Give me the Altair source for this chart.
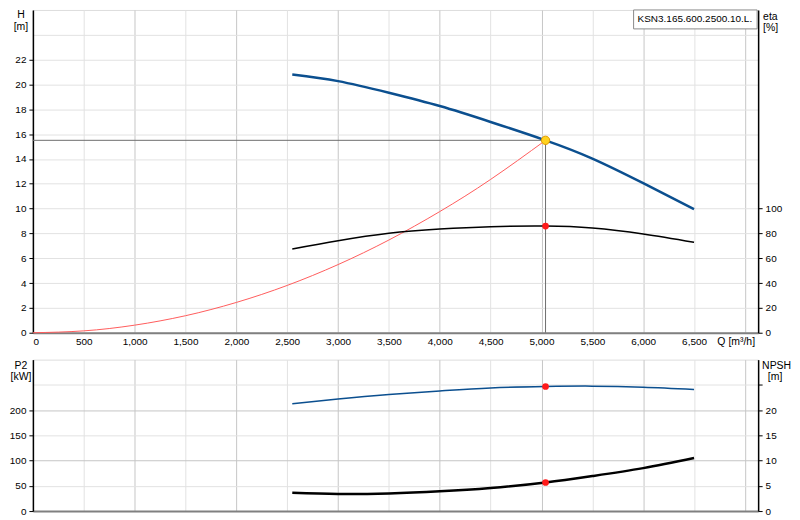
import altair as alt
import pandas as pd

FONT = "Liberation Sans"

# ---- data ----
q_pump = [2550, 3000, 3500, 4000, 4500, 5040, 5500, 6000, 6500]
h_pump = [20.8, 20.27, 19.33, 18.26, 16.98, 15.5, 14.03, 12.05, 9.96]
eta_pump = [67.5, 74.1, 80.1, 83.5, 85.4, 85.9, 84.3, 79.5, 72.8]
p2_pump = [212.5, 222, 231, 238, 244, 246.8, 247.5, 245.5, 241]
npsh_pump = [3.62, 3.37, 3.49, 3.9, 4.55, 5.66, 6.93, 8.5, 10.5]

q_sys = [0, 500, 1000, 1500, 2000, 2500, 3000, 3500, 4000, 4500, 5040]
h_sys = [0, 0.15, 0.61, 1.37, 2.44, 3.81, 5.49, 7.47, 9.76, 12.35, 15.5]

duty_q = [5040]
duty_h = [15.5]
duty_eta = [85.9]
duty_p2 = [246.8]
duty_npsh = [5.66]

x_ticks = list(range(0, 7001, 500))
h_ticks = list(range(0, 25, 2))
eta_ticks = list(range(0, 101, 20))
p2_ticks = list(range(0, 251, 50))
npsh_ticks = list(range(0, 26, 5))
model_name = "KSN3.165.600.2500.10.L."

W = 728
H_TOP = 324
H_BOT = 152

pump = pd.DataFrame({"Q": q_pump, "H": h_pump, "eta": eta_pump, "P2": p2_pump, "NPSH": npsh_pump})
system = pd.DataFrame({"Q": q_sys, "H": h_sys})
duty = pd.DataFrame({"Q": duty_q, "H": duty_h, "eta": duty_eta, "P2": duty_p2, "NPSH": duty_npsh, "Q0": [0], "H0": [0]})
one = pd.DataFrame({"a": [0]})

LIGHT = "#e2e2e2"
DARK = "#c6c6c6"
INTERP = "natural"

xs = alt.Scale(domain=[0, 7130], nice=False, zero=False)
x_grid = {"condition": {"test": "datum.value % 1000 === 0", "value": DARK}, "value": LIGHT}

x_axis_top = alt.Axis(values=x_ticks, labelExpr="datum.value > 6500 ? '' : format(datum.value, ',')",
                      grid=True, gridColor=x_grid, ticks=False, domainColor="#808080", domainWidth=2,
                      labelPadding=4, title=None, labelOverlap=False)
x_axis_bot = alt.Axis(values=x_ticks, labels=False, grid=True, gridColor=x_grid, ticks=False,
                      domainColor="#808080", domainWidth=2, title=None)

ys_h = alt.Scale(domain=[0, 26], nice=False, zero=False)
ys_eta = alt.Scale(domain=[0, 260], nice=False, zero=False)
ys_p2 = alt.Scale(domain=[0, 300], nice=False, zero=False)
ys_npsh = alt.Scale(domain=[0, 30], nice=False, zero=False)

y_axis_h = alt.Axis(values=h_ticks, labelExpr="datum.value > 22 ? '' : datum.label", grid=True,
                    gridColor=LIGHT, tickColor={"condition": {"test": "datum.value > 22", "value": "transparent"}, "value": "black"},
                    tickSize=4, domainColor="black", domainWidth=1.5, labelPadding=3, title=None, orient="left")
y_axis_eta = alt.Axis(values=eta_ticks, grid=False, tickSize=4, domainColor="black", domainWidth=1.5,
                      labelPadding=3, title=None, orient="right", tickColor="black")
y_axis_p2 = alt.Axis(values=p2_ticks, labelExpr="datum.value > 200 ? '' : datum.label", grid=True,
                     gridColor={"condition": {"test": "datum.value % 100 === 0", "value": DARK}, "value": LIGHT},
                     tickColor={"condition": {"test": "datum.value > 200", "value": "transparent"}, "value": "black"},
                     tickSize=4, domainColor="black", domainWidth=1.5, labelPadding=3, title=None, orient="left")
y_axis_npsh = alt.Axis(values=npsh_ticks, labelExpr="datum.value > 20 ? '' : datum.label", grid=False,
                       tickSize=4, domainColor="black", domainWidth=1.5, labelPadding=3, title=None,
                       orient="right", tickColor="black")


def X(field, axis):
    return alt.X(f"{field}:Q", scale=xs, axis=axis)


def label(txt, x, y, align="center", size=10.5):
    return alt.Chart(one).mark_text(text=txt, align=align, baseline="middle", font=FONT,
                                    fontSize=size, color="black").encode(x=alt.value(x), y=alt.value(y))


# ---------------- top panel ----------------
Yh = lambda f: alt.Y(f"{f}:Q", scale=ys_h, axis=y_axis_h)
Ye = lambda f: alt.Y(f"{f}:Q", scale=ys_eta, axis=y_axis_eta)

sys_line = alt.Chart(system).mark_line(color="#ff5c5c", strokeWidth=1, interpolate=INTERP).encode(
    x=X("Q", x_axis_top), y=Yh("H"))
h_rule = alt.Chart(duty).mark_rule(color="#6e6e6e", strokeWidth=1).encode(
    x=X("Q0", x_axis_top), x2="Q:Q", y=Yh("H"))
v_rule = alt.Chart(duty).mark_rule(color="#6e6e6e", strokeWidth=1).encode(
    x=X("Q", x_axis_top), y=Yh("H0"), y2="H:Q")
h_line = alt.Chart(pump).mark_line(color="#0b4f8f", strokeWidth=2.5, interpolate=INTERP).encode(
    x=X("Q", x_axis_top), y=Yh("H"))
duty_pt = alt.Chart(duty).mark_point(filled=True, fill="#ffd21f", stroke="#e09a00", strokeWidth=1,
                                     size=70, opacity=1, shape="circle").encode(
    x=X("Q", x_axis_top), y=Yh("H"))
box = alt.Chart(one).mark_rect(fill="white", stroke="#8a8a8a", strokeWidth=1).encode(
    x=alt.value(W - 125), x2=alt.value(W - 1), y=alt.value(0), y2=alt.value(19))
box_txt = label(model_name, W - 121, 9.5, align="left", size=10)

left_top = alt.layer(sys_line, h_rule, v_rule, h_line, duty_pt, box, box_txt,
                     label("H", -12, 5), label("[m]", -12, 17),
                     label("eta", W + 5, 7, align="left"), label("[%]", W + 5, 18, align="left"),
                     label("Q [m³/h]", W - 22, H_TOP + 9))

eta_line = alt.Chart(pump).mark_line(color="black", strokeWidth=1.5, interpolate=INTERP).encode(
    x=X("Q", x_axis_top), y=Ye("eta"))
eta_pt = alt.Chart(duty).mark_point(filled=True, color="#ff1a1a", size=45, opacity=1, shape="circle").encode(
    x=X("Q", x_axis_top), y=Ye("eta"))
right_top = alt.layer(eta_line, eta_pt)

top = alt.layer(left_top, right_top).resolve_scale(y="independent").properties(width=W, height=H_TOP)

# ---------------- bottom panel ----------------
Yp = lambda f: alt.Y(f"{f}:Q", scale=ys_p2, axis=y_axis_p2)
Yn = lambda f: alt.Y(f"{f}:Q", scale=ys_npsh, axis=y_axis_npsh)

p2_line = alt.Chart(pump).mark_line(color="#0b4f8f", strokeWidth=1.5, interpolate=INTERP).encode(
    x=X("Q", x_axis_bot), y=Yp("P2"))
p2_pt = alt.Chart(duty).mark_point(filled=True, color="#ff1a1a", size=45, opacity=1, shape="circle").encode(
    x=X("Q", x_axis_bot), y=Yp("P2"))
left_bot = alt.layer(p2_line, p2_pt,
                     label("P2", -12, 6), label("[kW]", -12, 17),
                     label("NPSH", W + 4, 6, align="left"), label("[m]", W + 17, 17))

npsh_line = alt.Chart(pump).mark_line(color="black", strokeWidth=2.5, interpolate=INTERP).encode(
    x=X("Q", x_axis_bot), y=Yn("NPSH"))
npsh_pt = alt.Chart(duty).mark_point(filled=True, color="#ff1a1a", size=45, opacity=1, shape="circle").encode(
    x=X("Q", x_axis_bot), y=Yn("NPSH"))
right_bot = alt.layer(npsh_line, npsh_pt)

bottom = alt.layer(left_bot, right_bot).resolve_scale(y="independent").properties(width=W, height=H_BOT)

chart = alt.vconcat(top, bottom, spacing=27, bounds="flush").properties(
    padding={"left": 0, "top": 0, "right": 0, "bottom": 0}
).configure_view(stroke="#8c8c8c", strokeWidth=1).configure_axis(
    labelFont=FONT, labelFontSize=10.5, labelColor="black", gridWidth=1
).configure(background="white")

chart.save("out.html", embed_options={"renderer": "svg", "actions": False})
